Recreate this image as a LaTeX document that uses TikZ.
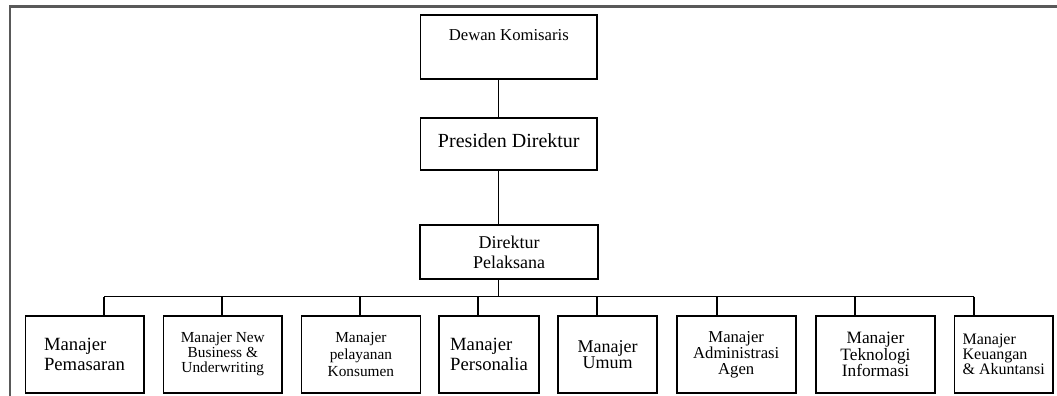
\documentclass[tikz,border=0pt]{standalone}
\usepackage{fontspec}
\setmainfont{Liberation Serif}
\usepackage{tikz}
\usetikzlibrary{positioning, calc}

\begin{document}
\begin{tikzpicture}[x=0.75pt, y=-0.75pt,
  unitbox/.style={draw, line width=1.3pt, inner sep=0pt},
  mgrbox/.style={unitbox, minimum height=57.75pt},
  link/.style={line width=1pt}]
\useasboundingbox (0,0) rectangle (1057,396);
% outer frame
\draw[gray!70!black, line width=1.9pt] (1060,6.5) -- (10,6.5) -- (10,400);

% top of the chart
\node[unitbox, anchor=north, minimum width=132.3pt, text height=19.5pt, text depth=28.5pt,
  font=\fontsize{12.5}{14}\selectfont] (dk) at (508.8,14) {Dewan Komisaris};
\node[unitbox, anchor=north, minimum width=132.3pt, text height=22.3pt, text depth=16.7pt,
  font=\fontsize{15}{16}\selectfont] (pd) at (508.8,117.3) {Presiden Direktur};
\node[unitbox, minimum width=133.5pt, minimum height=40.7pt, align=center,
  font=\fontsize{13.5}{15}\selectfont] (dp) at (509,252.2) {Direktur\\Pelaksana};

% connectors
\coordinate (trunk) at (498.5,0);
\coordinate (busL) at (104,296.7);
\coordinate (busR) at (974,296.7);
\draw[link] (dk.south -| trunk) -- (pd.north -| trunk);
\draw[link] (pd.south -| trunk) -- (dp.north -| trunk);
\draw[link] (dp.south -| trunk) -- (trunk |- busL);
\draw[link] (busL) -- (busR);

% managers
\node[mgrbox, minimum width=88.7pt, align=left, font=\fontsize{14}{15}\selectfont]
  (m1) at (84.5,354.5) {Manajer\\Pemasaran};
\node[mgrbox, minimum width=88.9pt, align=center, font=\fontsize{11.5}{11.3}\selectfont]
  (m2) at (222.8,354.5) {Manajer New\\Business \&\\Underwriting};
\node[mgrbox, minimum width=89.2pt, align=center, font=\fontsize{11.5}{12.5}\selectfont]
  (m3) at (360.9,354.5) {Manajer\\pelayanan\\Konsumen};
\node[mgrbox, minimum width=74.7pt, align=left, font=\fontsize{14}{15}\selectfont]
  (m4) at (489,354.5) {Manajer\\Personalia};
\node[mgrbox, minimum width=74.3pt, align=center, font=\fontsize{13.5}{12.4}\selectfont]
  (m5) at (607.5,354.5) {Manajer\\Umum};
\node[mgrbox, minimum width=89.2pt, align=center, font=\fontsize{12.5}{12}\selectfont]
  (m6) at (736.2,354.5) {Manajer\\Administrasi\\Agen};
\node[mgrbox, minimum width=89.3pt, align=center, font=\fontsize{13}{12.5}\selectfont]
  (m7) at (875.5,354.5) {Manajer\\Teknologi\\Informasi};
\node[mgrbox, minimum width=74pt, align=left, font=\fontsize{12}{11.3}\selectfont]
  (m8) at (1003.7,354.5) {Manajer\\Keuangan\\\& Akuntansi};

\foreach \n/\tx in {m1/104, m2/222, m3/360, m4/478, m5/597, m6/717, m7/855, m8/974}
  \draw[link] (\tx,296.7) -- (\n.north -| \tx,0);
\end{tikzpicture}
\end{document}
